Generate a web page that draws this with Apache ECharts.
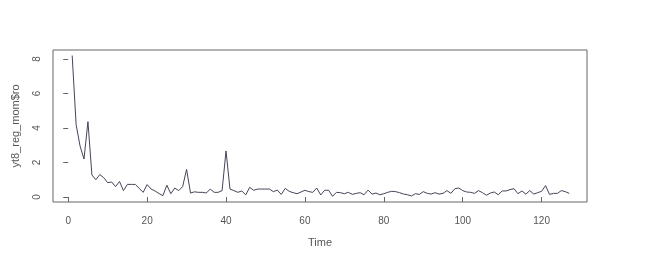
<!DOCTYPE html>
<html>
<head>
<meta charset="utf-8">
<script src="https://cdn.jsdelivr.net/npm/echarts@6/dist/echarts.min.js"></script>
<style>
html,body{margin:0;padding:0;background:#fff;}
#chart{width:645px;height:275px;}
</style>
</head>
<body>
<div id="chart"></div>
<script>
const values = [
 8.2, 4.2, 2.95, 2.2, 4.37, 1.28, 1.0, 1.3, 1.12, 0.83,
 0.87, 0.6, 0.9, 0.37, 0.73, 0.73, 0.73, 0.5, 0.27, 0.72,
 0.46, 0.35, 0.2, 0.08, 0.68, 0.19, 0.52, 0.37, 0.6, 1.6,
 0.23, 0.3, 0.27, 0.27, 0.23, 0.46, 0.27, 0.27, 0.37, 2.67,
 0.46, 0.37, 0.27, 0.35, 0.12, 0.56, 0.39, 0.46, 0.46, 0.46,
 0.46, 0.31, 0.4, 0.15, 0.5, 0.33, 0.25, 0.19, 0.29, 0.39,
 0.31, 0.27, 0.52, 0.12, 0.39, 0.39, 0.04, 0.27, 0.25, 0.19,
 0.27, 0.15, 0.21, 0.25, 0.13, 0.4, 0.17, 0.23, 0.13, 0.19,
 0.27, 0.33, 0.31, 0.25, 0.17, 0.13, 0.06, 0.19, 0.15, 0.31,
 0.21, 0.17, 0.25, 0.17, 0.21, 0.37, 0.21, 0.48, 0.52, 0.37,
 0.29, 0.27, 0.21, 0.37, 0.25, 0.1, 0.23, 0.29, 0.13, 0.35,
 0.35, 0.43, 0.48, 0.19, 0.35, 0.17, 0.37, 0.17, 0.25, 0.33,
 0.66, 0.15, 0.21, 0.21, 0.37, 0.31, 0.21
];
const times = values.map((v, i) => i + 1);
const xTicks = [0, 20, 40, 60, 80, 100, 120];
const yTicks = [0, 2, 4, 6, 8];
const xName = 'Time';
const yName = 'yt8_reg_mom$ro';

const chart = echarts.init(document.getElementById('chart'), null, {renderer: 'canvas'});
const textColor = '#555555';
const axisColor = '#666666';
chart.setOption({
  animation: false,
  backgroundColor: '#ffffff',
  grid: {left: 53, right: 58, top: 50, bottom: 73, show: true, borderColor: axisColor, borderWidth: 1, backgroundColor: 'transparent'},
  xAxis: {
    type: 'value', min: -3.86, max: 131.5,
    name: xName, nameLocation: 'middle', nameGap: 35,
    nameTextStyle: {color: textColor, fontSize: 11, fontFamily: 'Liberation Sans'},
    axisLine: {show: false},
    splitLine: {show: false},
    axisTick: {show: true, length: 5, inside: false, customValues: xTicks, lineStyle: {color: axisColor}},
    axisLabel: {customValues: xTicks, margin: 14, color: textColor, fontSize: 10, fontFamily: 'Liberation Sans'}
  },
  yAxis: {
    type: 'value', min: -0.29, max: 8.52,
    name: yName, nameLocation: 'middle', nameGap: 32, nameRotate: 90,
    nameTextStyle: {color: textColor, fontSize: 11, fontFamily: 'Liberation Sans'},
    axisLine: {show: false},
    splitLine: {show: false},
    axisTick: {show: true, length: 5, customValues: yTicks, lineStyle: {color: axisColor}},
    axisLabel: {customValues: yTicks, rotate: 90, margin: 11, color: textColor, fontSize: 10, fontFamily: 'Liberation Sans'}
  },
  series: [{
    type: 'line',
    data: times.map((t, i) => [t, values[i]]),
    showSymbol: false,
    symbol: 'none',
    lineStyle: {color: '#45455a', width: 1},
    silent: true
  }]
});
</script>
</body>
</html>
